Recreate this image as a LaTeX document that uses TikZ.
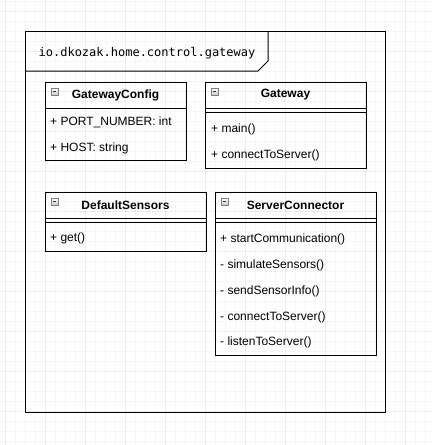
\documentclass[tikz,border=0pt]{standalone}
\usepackage{fontspec}
\setmainfont{Liberation Sans}
\newfontfamily\pkgfont{DejaVu Sans Mono}
\usetikzlibrary{positioning,calc}
\definecolor{gridminor}{HTML}{F6F6F6}
\definecolor{gridmajor}{HTML}{ECECEC}
\definecolor{iconfill}{HTML}{C8C8C8}
\definecolor{iconline}{HTML}{7F7F7F}
\tikzset{
    classtitle/.style={font=\fontsize{12}{14}\selectfont\bfseries, inner sep=0pt},
    member/.style={font=\fontsize{12}{14}\selectfont, inner sep=0pt, anchor=west},
    box/.style={draw=black, line width=1pt},
}
% small collapse icon in a class header
\newcommand{\foldicon}[2]{%
    \draw[iconline, line width=0.6pt, top color=white, bottom color=iconfill] (#1,#2) rectangle ++(7,7);
    \draw[black!80, line width=1pt] ($(#1,#2)+(1.6,3.5)$) -- ++(3.8,0);
}
\begin{document}
\begin{tikzpicture}[x=1pt, y=-1pt]
    \fill[white] (0,0) rectangle (432,445);
    \useasboundingbox (0,0) rectangle (432,445);
    % background grid
    \foreach \gx in {5,15,...,432} \draw[gridminor, line width=0.6pt] (\gx,0) -- (\gx,445);
    \foreach \gy in {1,11,...,445} \draw[gridminor, line width=0.6pt] (0,\gy) -- (432,\gy);
    \foreach \gx in {5,45,...,432} \draw[gridmajor, line width=0.6pt] (\gx,0) -- (\gx,445);
    \foreach \gy in {11,51,...,445} \draw[gridmajor, line width=0.6pt] (0,\gy) -- (432,\gy);

    % package frame
    \draw[box] (25,31) rectangle (385,412);
    \draw[box] (25,71) -- (258,71) -- (268,61) -- (268,31);
    \node[font=\pkgfont\fontsize{12}{14}\selectfont, inner sep=0pt] (pkg) at (147,53) {io.dkozak.home.control.gateway};

    % GatewayConfig
    \draw[box] (45,82) rectangle (186,160);
    \draw[box] (45,108) -- (186,108);
    \foldicon{51}{88}
    \node[classtitle] (cfg) at (115.5,95) {GatewayConfig};
    \node[member] (cfgport) at (50,122) {+ PORT\_NUMBER: int};
    \node[member] (cfghost) at (50,148) {+ HOST: string};

    % Gateway
    \draw[box] (205,82) rectangle (366,168);
    \draw[box] (205,108) -- (366,108);
    \draw[box] (205,112) -- (366,112);
    \foldicon{211}{88}
    \node[classtitle] (gw) at (285.5,95) {Gateway};
    \node[member] (gwmain) at (211,129) {+ main()};
    \node[member] (gwconn) at (211,155) {+ connectToServer()};

    % DefaultSensors
    \draw[box] (45,192) rectangle (206,251);
    \draw[box] (45,218) -- (206,218);
    \draw[box] (45,222) -- (206,222);
    \foldicon{51}{198}
    \node[classtitle] (ds) at (125.5,205) {DefaultSensors};
    \node[member] (dsget) at (50,238) {+ get()};

    % ServerConnector
    \draw[box] (215,192) rectangle (376,355);
    \draw[box] (215,218) -- (376,218);
    \draw[box] (215,222) -- (376,222);
    \foldicon{221}{198}
    \node[classtitle] (sc) at (295.5,205) {ServerConnector};
    \node[member] (scstart) at (220,239) {+ startCommunication()};
    \node[member] (scsim) at (220,265) {- simulateSensors()};
    \node[member] (scsend) at (220,291) {- sendSensorInfo()};
    \node[member] (scconn) at (220,317) {- connectToServer()};
    \node[member] (sclisten) at (220,342) {- listenToServer()};
\end{tikzpicture}
\end{document}
